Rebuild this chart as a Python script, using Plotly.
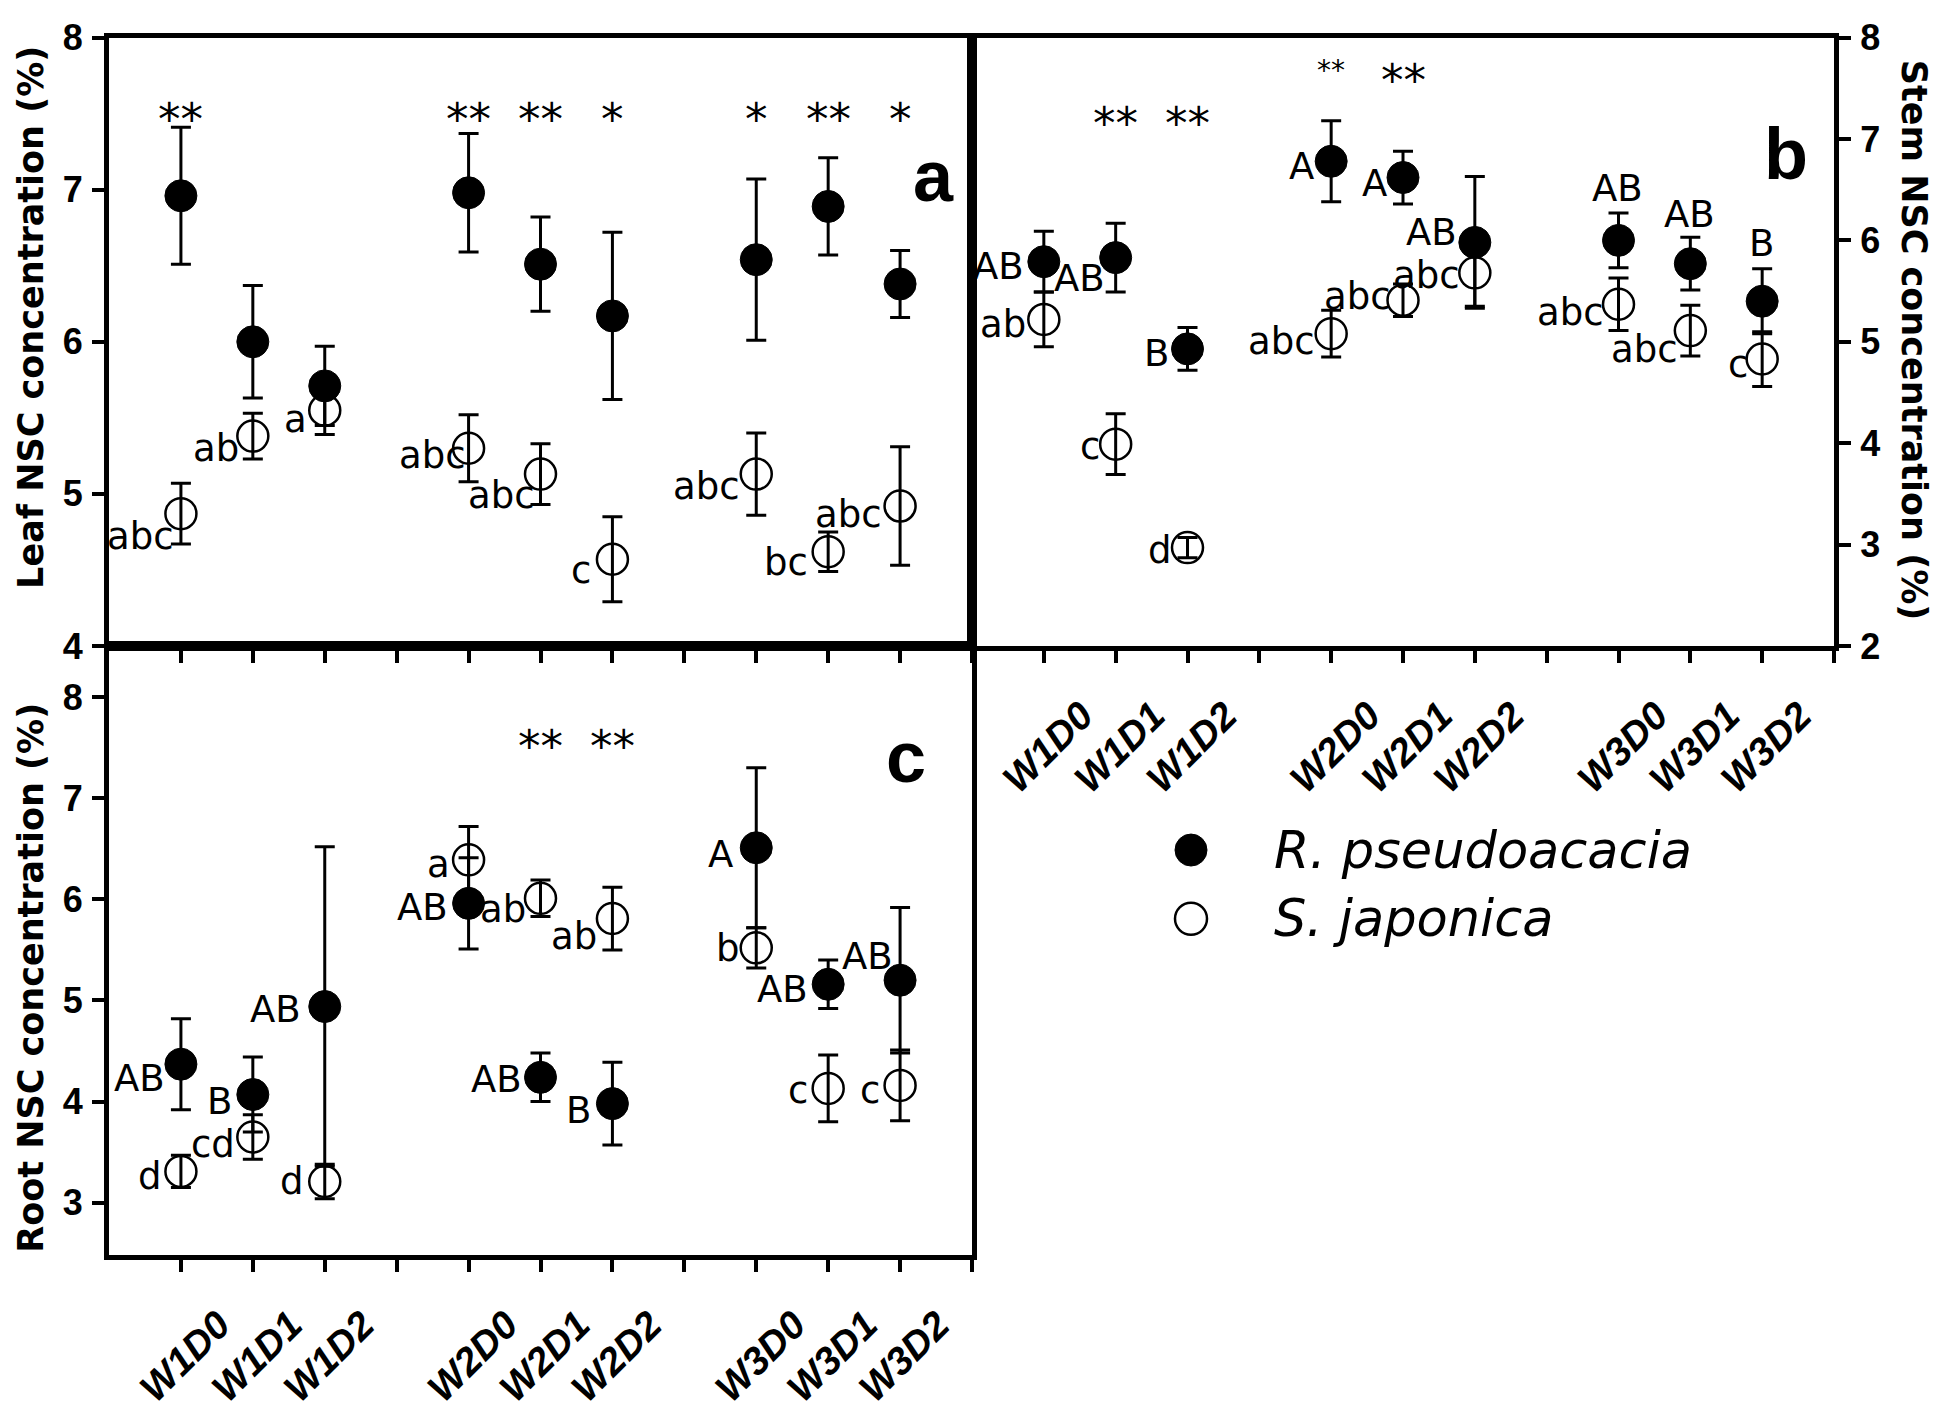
import plotly.graph_objects as go

# ---------------- data ----------------
groups = ["W1", "W2", "W3"]
doses = ["D0", "D1", "D2"]
categories = [g + d for g in groups for d in doses]

leaf_rp = [6.96, 6.00, 5.71, 6.98, 6.51, 6.17, 6.54, 6.89, 6.38]
leaf_rp_se = [0.45, 0.37, 0.26, 0.39, 0.31, 0.55, 0.53, 0.32, 0.22]
leaf_sj = [4.87, 5.38, 5.55, 5.30, 5.13, 4.57, 5.13, 4.62, 4.92]
leaf_sj_se = [0.20, 0.15, 0.16, 0.22, 0.20, 0.28, 0.27, 0.13, 0.39]

stem_rp = [5.79, 5.83, 4.93, 6.78, 6.62, 5.98, 6.00, 5.77, 5.40]
stem_rp_se = [0.30, 0.34, 0.21, 0.40, 0.26, 0.65, 0.27, 0.26, 0.32]
stem_sj = [5.22, 3.99, 2.97, 5.08, 5.41, 5.68, 5.37, 5.11, 4.83]
stem_sj_se = [0.27, 0.30, 0.10, 0.23, 0.16, 0.33, 0.26, 0.25, 0.27]

root_rp = [4.37, 4.07, 4.94, 5.96, 4.24, 3.98, 6.51, 5.16, 5.20]
root_rp_se = [0.45, 0.37, 1.58, 0.45, 0.24, 0.41, 0.79, 0.24, 0.72]
root_sj = [3.31, 3.65, 3.21, 6.39, 6.01, 5.81, 5.52, 4.13, 4.16]
root_sj_se = [0.16, 0.22, 0.17, 0.33, 0.18, 0.31, 0.20, 0.33, 0.35]

leaf_sj_letters = ["abc", "ab", "a", "abc", "abc", "c", "abc", "bc", "abc"]
stem_rp_letters = ["AB", "AB", "B", "A", "A", "AB", "AB", "AB", "B"]
stem_sj_letters = ["ab", "c", "d", "abc", "abc", "abc", "abc", "abc", "c"]
root_rp_letters = ["AB", "B", "AB", "AB", "AB", "B", "A", "AB", "AB"]
root_sj_letters = ["d", "cd", "d", "a", "ab", "ab", "b", "c", "c"]

leaf_sig = ["**", "", "", "**", "**", "*", "*", "**", "*"]
stem_sig = ["", "**", "**", "**", "**", "", "", "", ""]
root_sig = ["", "", "", "", "**", "**", "", "", ""]

species = ["R. pseudoacacia", "S. japonica"]
y_ticks_leaf = [4, 5, 6, 7, 8]
y_ticks_stem = [2, 3, 4, 5, 6, 7, 8]
y_ticks_root = [3, 4, 5, 6, 7, 8]

# ---------------- layout helpers (styling) ----------------
W, H, OFF = 1930, 1402, 8


def fx(X):
    return (X - OFF) / W


def fy(Y):
    return 1 - (Y - OFF) / H


# slot on the axis: three groups of three with a gap between groups
xpos = [4 * gi + di + 1 for gi in range(len(groups)) for di in range(len(doses))]
slot_ticks = list(range(1, 13))
slot_text = [categories[xpos.index(t)] if t in xpos else "" for t in slot_ticks]

FONT = "Liberation Sans, Arial, sans-serif"
WIDE = "DejaVu Sans, Liberation Sans, Arial, sans-serif"

fig = go.Figure()

panels = [
    dict(xa="x", ya="y", rp=leaf_rp, rpse=leaf_rp_se, sj=leaf_sj, sjse=leaf_sj_se),
    dict(xa="x2", ya="y2", rp=stem_rp, rpse=stem_rp_se, sj=stem_sj, sjse=stem_sj_se),
    dict(xa="x3", ya="y3", rp=root_rp, rpse=root_rp_se, sj=root_sj, sjse=root_sj_se),
]

for p in panels:
    fig.add_trace(go.Scatter(
        x=xpos, y=p["rp"], mode="markers", name=species[0], showlegend=False,
        xaxis=p["xa"], yaxis=p["ya"],
        marker=dict(symbol="circle", size=32, color="black", line=dict(width=1, color="black")),
        error_y=dict(type="data", array=p["rpse"], visible=True, color="black", thickness=3, width=10),
    ))
    fig.add_trace(go.Scatter(
        x=xpos, y=p["sj"], mode="markers", name=species[1], showlegend=False,
        xaxis=p["xa"], yaxis=p["ya"],
        marker=dict(symbol="circle-open", size=31, color="black", line=dict(width=2.5, color="black")),
        error_y=dict(type="data", array=p["sjse"], visible=True, color="black", thickness=3, width=10),
    ))

axis_common = dict(showline=True, linewidth=5, linecolor="black", mirror=True,
                   ticks="outside", ticklen=12, tickwidth=4, tickcolor="black",
                   showgrid=False, zeroline=False)
xfont = dict(family=FONT, size=39, color="black", weight="bold", style="italic")
yfont = dict(family=FONT, size=36, color="black", weight="bold")

xa_dom = [fx(109), fx(972)]
xb_dom = [fx(972), fx(1834)]
ytop_dom = [fy(656), fy(18)]
ybot_dom = [fy(1295), fy(656)]

fig.update_layout(
    width=W, height=H, margin=dict(l=0, r=0, t=0, b=0),
    paper_bgcolor="white", plot_bgcolor="white", showlegend=False,
    xaxis=dict(domain=xa_dom, anchor="y", range=[0, 12], tickvals=slot_ticks,
               showticklabels=False, **axis_common),
    yaxis=dict(domain=ytop_dom, anchor="x", range=[4, 8.0005], tickvals=y_ticks_leaf,
               tickfont=yfont, ticklabeloverflow="allow", ticklabelstandoff=2, **axis_common),
    xaxis2=dict(domain=xb_dom, anchor="y2", range=[0, 12], tickvals=slot_ticks,
                ticktext=slot_text, tickangle=-45, tickfont=xfont,
                ticklabelshift=38, ticklabelstandoff=14, **axis_common),
    yaxis2=dict(domain=ytop_dom, anchor="x2", side="right", range=[2, 8.0005],
                tickvals=y_ticks_stem, tickfont=yfont, ticklabeloverflow="allow",
                ticklabelstandoff=2, **axis_common),
    xaxis3=dict(domain=xa_dom, anchor="y3", range=[0, 12], tickvals=slot_ticks,
                ticktext=slot_text, tickangle=-45, tickfont=xfont,
                ticklabelshift=38, ticklabelstandoff=14, **axis_common),
    yaxis3=dict(domain=ybot_dom, anchor="x3", range=[2.48, 8.505],
                tickvals=y_ticks_root, tickfont=yfont, ticklabeloverflow="allow",
                ticklabelstandoff=2, **axis_common),
)

ann = []

# letter annotations: (dx, dy) pixel offsets relative to the marker centre
label_font = dict(family=WIDE, size=37, color="black")
offsets = {
    "leaf_sj": [(-8, -23), (-15, -12), (-19, -9), (-4, -7), (-7, -21), (-22, -11), (-17, -12), (-21, -11), (-19, -8)],
    "stem_rp": [(-21, -5), (-12, -21), (-20, -5), (-18, -5), (-17, -6), (-19, 10), ("c", 52), ("c", 49), ("c", 58)],
    "stem_sj": [(-19, -5), (-17, -2), (-17, -3), (-17, -8), (-13, 4), (-16, -3), (-16, -8), (-13, -19), (-15, -5)],
    "root_rp": [(-17, -14), (-22, -7), (-25, -3), (-22, -4), (-20, -2), (-22, -7), (-24, -7), (-21, -5), (-8, 24)],
    "root_sj": [(-20, -5), (-19, -8), (-22, 0), (-20, -5), (-16, -11), (-16, -18), (-17, -1), (-21, -2), (-21, -5)],
}
label_sets = [
    ("x", "y", leaf_sj, leaf_sj_letters, "leaf_sj"),
    ("x2", "y2", stem_rp, stem_rp_letters, "stem_rp"),
    ("x2", "y2", stem_sj, stem_sj_letters, "stem_sj"),
    ("x3", "y3", root_rp, root_rp_letters, "root_rp"),
    ("x3", "y3", root_sj, root_sj_letters, "root_sj"),
]
for xr, yr, vals, letters, key in label_sets:
    for i, (v, t) in enumerate(zip(vals, letters)):
        if not t:
            continue
        dx, dy = offsets[key][i]
        if dx == "c":
            ann.append(dict(x=xpos[i], y=v, xref=xr, yref=yr, text=t, showarrow=False,
                            xanchor="center", yanchor="middle", xshift=-1, yshift=dy,
                            font=label_font, borderpad=0))
        else:
            ann.append(dict(x=xpos[i], y=v, xref=xr, yref=yr, text=t, showarrow=False,
                            xanchor="right", yanchor="middle", xshift=dx + 2, yshift=dy,
                            font=label_font, borderpad=0))

# significance stars
sig_sets = [
    ("x", "y", leaf_sig, [7.53] * 9, [45] * 9),
    ("x2", "y2", stem_sig, [7.25, 7.25, 7.25, 7.73, 7.68, 7.25, 7.25, 7.25, 7.25],
     [45, 45, 45, 28, 45, 45, 45, 45, 45]),
    ("x3", "y3", root_sig, [7.61] * 9, [45] * 9),
]
for xr, yr, sigs, ys, sizes in sig_sets:
    for i, s in enumerate(sigs):
        if not s:
            continue
        ann.append(dict(x=xpos[i], y=ys[i], xref=xr, yref=yr, text=s, showarrow=False,
                        xanchor="center", yanchor="middle", yshift=-int(sizes[i] * 0.24),
                        font=dict(family=WIDE, size=sizes[i], color="black")))

# panel letters
panel_font = dict(family=FONT, size=72, color="black", weight="bold")
ann.append(dict(x=11.47, y=7.05, xref="x", yref="y", text="a", showarrow=False,
                xanchor="center", yanchor="middle", yshift=6, font=panel_font))
ann.append(dict(x=11.33, y=6.85, xref="x2", yref="y2", text="b", showarrow=False,
                xanchor="center", yanchor="middle", font=panel_font))
ann.append(dict(x=11.08, y=7.35, xref="x3", yref="y3", text="c", showarrow=False,
                xanchor="center", yanchor="middle", yshift=6, font=panel_font))

# axis titles
tfont = dict(family=WIDE, size=35, color="black", weight="bold")
ann.append(dict(x=fx(31), y=fy(312), xref="paper", yref="paper", text="Leaf NSC concentration (%)",
                textangle=-90, showarrow=False, xanchor="center", yanchor="middle", font=tfont))
ann.append(dict(x=fx(31), y=fy(1004), xref="paper", yref="paper", text="Root NSC concentration (%)",
                textangle=-90, showarrow=False, xanchor="center", yanchor="middle", font=tfont))
ann.append(dict(x=fx(1914), y=fy(335), xref="paper", yref="paper", text="Stem NSC concentration (%)",
                textangle=90, showarrow=False, xanchor="center", yanchor="middle", font=tfont))

# legend (drawn manually so the symbols keep the data marker size)
leg_font = dict(family=WIDE, size=51, color="black", style="italic")
leg_y = [870, 942]
shapes = []
for k, name in enumerate(species):
    shapes.append(dict(type="circle", xref="paper", yref="paper",
                       xsizemode="pixel", ysizemode="pixel",
                       xanchor=fx(1191), yanchor=fy(leg_y[k]),
                       x0=-16, x1=16, y0=-16, y1=16,
                       fillcolor="black" if k == 0 else "rgba(0,0,0,0)",
                       line=dict(color="black", width=1 if k == 0 else 2.5)))
    ann.append(dict(x=fx(1272), y=fy(leg_y[k]), xref="paper", yref="paper", text=name,
                    showarrow=False, xanchor="left", yanchor="middle", font=leg_font))

fig.update_layout(annotations=ann, shapes=shapes)
fig.write_html("out.html")
